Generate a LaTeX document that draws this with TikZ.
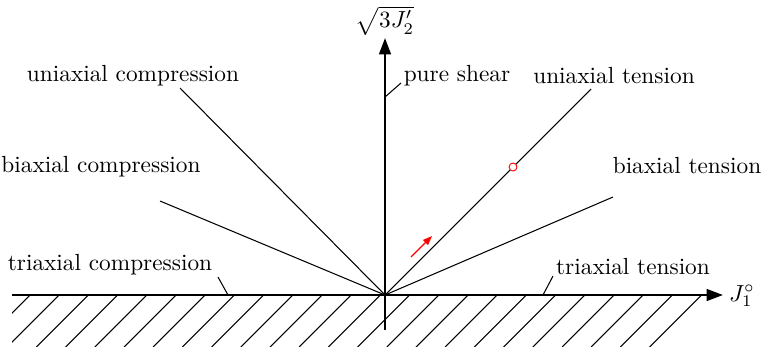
\documentclass[tikz,border=0pt]{standalone}
\usetikzlibrary{arrows.meta}
\begin{document}
\begin{tikzpicture}[x=0.429pt,y=-0.429pt,
  axis/.style={line width=1pt,-{Triangle[length=7pt,width=5pt]}},
  ray/.style={line width=0.45pt},
  lbl/.style={inner sep=0pt},
  hatchline/.style={line width=0.45pt},
  leader/.style={line width=0.45pt}]
\useasboundingbox (0,0) rectangle (763,350);
\coordinate (O) at (385,295);
% hatching
\begin{scope}
\clip (12,295) rectangle (715,346);
\foreach \k in {0,...,23} \draw[hatchline] ({30+29.2*\k},295) -- ++(-52,52);
\end{scope}
% rays
\coordinate (uc) at (180,88);
\coordinate (bc) at (160,201);
\coordinate (ut) at (591,89);
\coordinate (bt) at (613,197);
\draw[ray] (O) -- (uc);
\draw[ray] (O) -- (bc);
\draw[ray] (O) -- (ut);
\draw[ray] (O) -- (bt);
% axes
\coordinate (xstart) at (12,295);
\coordinate (xend) at (723,295);
\coordinate (ystart) at (385,330);
\coordinate (yend) at (385,38);
\draw[axis] (xstart) -- (xend);
\draw[axis] (ystart) -- (yend);
\node[lbl] (J1) at (742,296) {$J_1^\circ$};
\node[lbl] (J2) at (385,21) {$\sqrt{3J_2'}$};
% labels
\node[lbl] (luc) at (133,76) {uniaxial compression};
\node[lbl] (lbc) at (101,167) {biaxial compression};
\node[lbl] (ltc) at (110,265) {triaxial compression};
\node[lbl] (lps) at (457,76) {pure shear};
\node[lbl] (lut) at (614,76) {uniaxial tension};
\node[lbl] (lbt) at (687,166) {biaxial tension};
\node[lbl] (ltt) at (633,267) {triaxial tension};
% leaders
\coordinate (tc1) at (218,277); \coordinate (tc2) at (228,295);
\coordinate (tt1) at (553,276); \coordinate (tt2) at (543,295);
\coordinate (ps1) at (401,83);  \coordinate (ps2) at (385,97);
\draw[leader] (tc1) -- (tc2);
\draw[leader] (tt1) -- (tt2);
\draw[leader] (ps1) -- (ps2);
% marker and arrow
\node[circle,draw=red,fill=white,line width=0.4pt,inner sep=0pt,minimum size=3.4pt] (pt) at (513,167) {};
\coordinate (ra1) at (411,257);
\coordinate (ra2) at (432,236);
\draw[red,line width=0.5pt,-{Triangle[length=4pt,width=3pt]}] (ra1) -- (ra2);
\end{tikzpicture}
\end{document}
